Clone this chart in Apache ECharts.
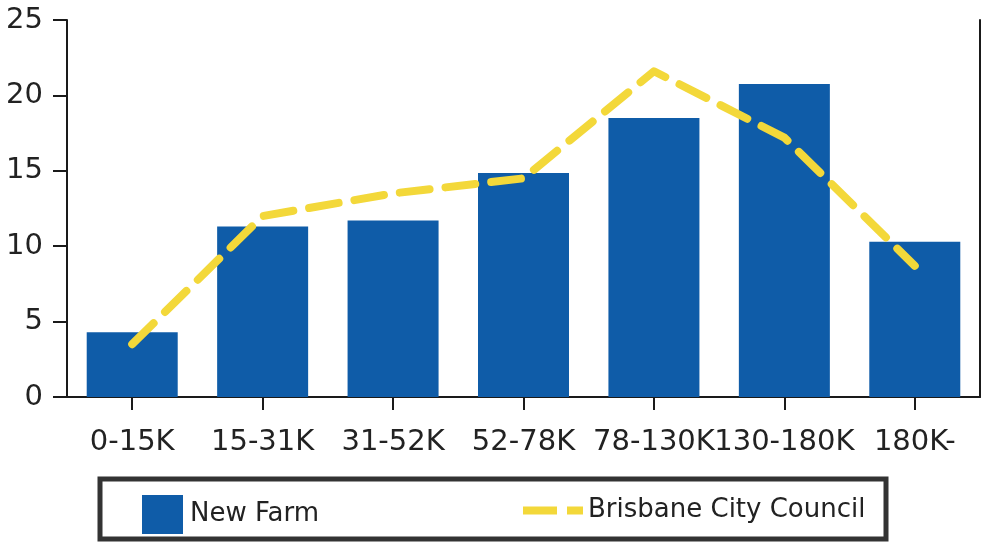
<!DOCTYPE html>
<html>
<head>
<meta charset="utf-8">
<script src="https://cdn.jsdelivr.net/npm/echarts@6/dist/echarts.min.js"></script>
<style>
html,body{margin:0;padding:0;background:#fff;}
#c{width:982px;height:545px;}
</style>
</head>
<body>
<div id="c"></div>
<script>
var categories = ['0-15K', '15-31K', '31-52K', '52-78K', '78-130K', '130-180K', '180K-'];
var newFarm = [4.3, 11.3, 11.7, 14.85, 18.5, 20.75, 10.3];
var brisbane = [3.5, 12.0, 13.5, 14.5, 21.6, 17.2, 8.7];
var yTicks = [0, 5, 10, 15, 20, 25];

var FONT = 'DejaVu Sans';
var TXT = '#222222';
var chart = echarts.init(document.getElementById('c'));
chart.setOption({
  animation: false,
  backgroundColor: '#ffffff',
  grid: { left: 67, right: 2, top: 20, bottom: 148, containLabel: false },
  xAxis: {
    type: 'category',
    data: categories,
    axisLine: { lineStyle: { color: '#1a1a1a', width: 2 } },
    axisTick: { show: true, alignWithLabel: true, length: 13, lineStyle: { color: '#1a1a1a', width: 2 } },
    axisLabel: { interval: 0, fontFamily: FONT, fontSize: 29, color: TXT, margin: 31 }
  },
  yAxis: [{
    type: 'value',
    min: yTicks[0],
    max: yTicks[yTicks.length - 1],
    interval: 5,
    splitLine: { show: false },
    axisLine: { show: true, lineStyle: { color: '#1a1a1a', width: 2 } },
    axisTick: { show: true, length: 14, lineStyle: { color: '#1a1a1a', width: 2 } },
    axisLabel: { fontFamily: FONT, fontSize: 29, color: TXT, margin: 24 }
  }, {
    type: 'value',
    position: 'right',
    min: 0, max: 25, interval: 5,
    splitLine: { show: false },
    axisLine: { show: true, lineStyle: { color: '#1a1a1a', width: 2 } },
    axisTick: { show: false },
    axisLabel: { show: false }
  }],
  legend: [{
    data: ['New Farm'],
    left: 137, top: 490,
    itemWidth: 41, itemHeight: 39,
    itemGap: 0,
    icon: 'rect',
    textStyle: { fontFamily: FONT, fontSize: 26, color: TXT, padding: [0, 0, 0, 2] }
  }, {
    data: [{ name: 'Brisbane City Council', itemStyle: { opacity: 0 } }],
    left: 514, top: 490,
    itemWidth: 60, itemHeight: 39,
    itemGap: 0,
    lineStyle: { type: [34, 10], width: 8, cap: 'butt' },
    textStyle: { fontFamily: FONT, fontSize: 26, color: TXT, padding: [0, 0, 0, 0] }
  }],
  graphic: [{
    type: 'rect',
    shape: { x: 100, y: 479, width: 786, height: 60 },
    style: { fill: 'none', stroke: '#333333', lineWidth: 5 },
    silent: true
  }],
  series: [{
    name: 'New Farm',
    type: 'bar',
    data: newFarm,
    barWidth: 91,
    itemStyle: { color: '#0f5ca8' }
  }, {
    name: 'Brisbane City Council',
    type: 'line',
    data: brisbane,
    symbol: 'none',
    z: 5,
    lineStyle: { color: '#f3d83a', width: 8, type: [30, 16], cap: 'round', join: 'round' },
    itemStyle: { color: '#f3d83a' }
  }]
});
</script>
</body>
</html>
